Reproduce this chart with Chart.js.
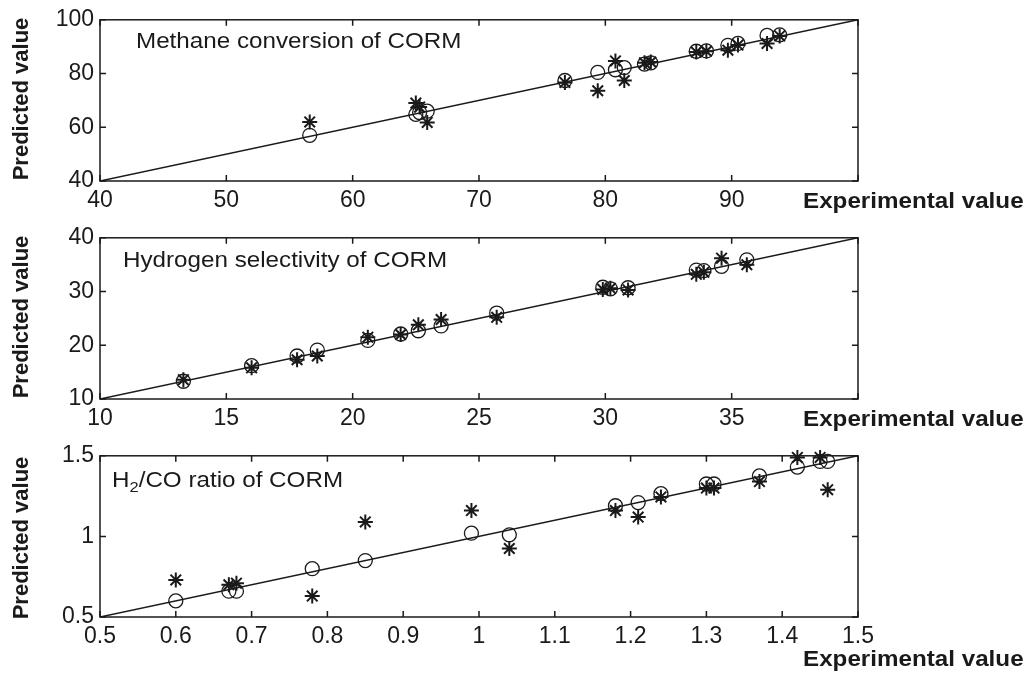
<!DOCTYPE html>
<html>
<head>
<meta charset="utf-8">
<script src="https://cdn.jsdelivr.net/npm/chart.js@4"></script>
<style>
  body { margin: 0; background: #fff; }
  #wrap { position: relative; width: 1029px; height: 681px; overflow: hidden; font-family: "Liberation Sans", Arial, sans-serif; color: #1a1a1a; }
  canvas { position: absolute; left: 0; }
  .lbl { position: absolute; white-space: nowrap; line-height: 24px; font-size: 22px; transform-origin: 0 50%; transform: scaleX(1.1); }
  .bold { font-weight: bold; font-size: 22px; }
  .ylab { position: absolute; white-space: nowrap; font-weight: bold; font-size: 22px; line-height: 24px; transform: translate(-50%, -50%) rotate(-90deg); }
  sub { font-size: 15px; vertical-align: -5px; line-height: 0; }
</style>
</head>
<body>
<div id="wrap">
  <canvas id="c1" width="1029" height="215" style="top:0px"></canvas>
  <canvas id="c2" width="1029" height="215" style="top:218px"></canvas>
  <canvas id="c3" width="1029" height="215" style="top:436px"></canvas>

  <div class="lbl" style="left:136px; top:29px">Methane conversion of CORM</div>
  <div class="lbl" style="left:123px; top:248px">Hydrogen selectivity of CORM</div>
  <div class="lbl" style="left:112px; top:468px">H<sub>2</sub>/CO ratio of CORM</div>

  <div class="lbl bold" style="left:803px; top:189px">Experimental value</div>
  <div class="lbl bold" style="left:803px; top:407px">Experimental value</div>
  <div class="lbl bold" style="left:803px; top:647px">Experimental value</div>

  <div class="ylab" style="left:21px; top:99px">Predicted value</div>
  <div class="ylab" style="left:21px; top:317px">Predicted value</div>
  <div class="ylab" style="left:21px; top:538px">Predicted value</div>
</div>
<script>
// methane conversion (%) - experimental vs two model predictions
const methaneExp    = [56.6, 65.0, 65.3, 65.9, 76.8, 79.4, 80.8, 81.5, 83.1, 83.6, 87.2, 88.0, 89.7, 90.5, 92.8, 93.8];
const methaneCircle = [57.0, 64.8, 65.5, 66.0, 77.4, 80.4, 81.4, 82.2, 83.5, 84.0, 88.3, 88.4, 90.5, 91.2, 94.2, 94.4];
const methaneStar   = [62.0, 69.0, 67.5, 61.8, 76.7, 73.6, 84.7, 77.4, 84.0, 84.3, 88.0, 88.3, 88.7, 90.6, 91.2, 94.0];

// hydrogen selectivity (%)
const hydrogenExp    = [13.3, 16.0, 17.8, 18.6, 20.6, 21.9, 22.6, 23.5, 25.7, 29.9, 30.2, 30.9, 33.6, 33.9, 34.6, 35.6];
const hydrogenCircle = [13.3, 16.2, 18.0, 19.1, 20.9, 22.1, 22.7, 23.6, 26.0, 30.8, 30.5, 30.7, 34.0, 33.9, 34.7, 35.9];
const hydrogenStar   = [13.6, 15.8, 17.3, 18.0, 21.5, 22.0, 23.8, 24.8, 25.2, 30.4, 30.6, 30.3, 33.2, 33.6, 36.2, 35.0];

// H2/CO ratio
const ratioExp    = [0.60, 0.67, 0.68, 0.78, 0.85, 0.99, 1.04, 1.18, 1.21, 1.24, 1.30, 1.31, 1.37, 1.42, 1.45, 1.46];
const ratioCircle = [0.60, 0.66, 0.66, 0.80, 0.85, 1.02, 1.01, 1.19, 1.21, 1.265, 1.325, 1.325, 1.375, 1.43, 1.465, 1.465];
const ratioStar   = [0.73, 0.70, 0.71, 0.63, 1.09, 1.16, 0.925, 1.16, 1.12, 1.245, 1.30, 1.30, 1.34, 1.49, 1.49, 1.29];

const methaneTicks  = { xStep: 10, yStep: 20 };
const hydrogenTicks = { xStep: 5, yStep: 10 };
const ratioTicks    = { xStep: 0.1, yStep: 0.5 };

const ink = "#1a1a1a";

// box around the plot with inward ticks on all four sides
const frame = {
  id: "frame",
  afterDraw(chart) {
    const { ctx, chartArea: a, scales } = chart;
    ctx.save();
    ctx.strokeStyle = ink;
    ctx.lineWidth = 1.5;
    ctx.strokeRect(a.left, a.top, a.right - a.left, a.bottom - a.top);
    scales.x.ticks.forEach((t) => {
      const px = scales.x.getPixelForValue(t.value);
      ctx.beginPath();
      ctx.moveTo(px, a.bottom); ctx.lineTo(px, a.bottom - 6);
      ctx.moveTo(px, a.top); ctx.lineTo(px, a.top + 6);
      ctx.stroke();
    });
    scales.y.ticks.forEach((t) => {
      const py = scales.y.getPixelForValue(t.value);
      ctx.beginPath();
      ctx.moveTo(a.left, py); ctx.lineTo(a.left + 6, py);
      ctx.moveTo(a.right, py); ctx.lineTo(a.right - 6, py);
      ctx.stroke();
    });
    ctx.restore();
  },
};

function panel(id, min, max, ymin, ymax, steps, xs, circles, stars, hideLast, digits) {
  const fmt = (v) => Number(v.toFixed(digits)).toString();
  new Chart(document.getElementById(id), {
    type: "scatter",
    data: {
      datasets: [
        {
          type: "line",
          data: [{ x: min, y: ymin }, { x: max, y: ymax }],
          borderColor: ink,
          borderWidth: 1.5,
          pointRadius: 0,
        },
        {
          data: xs.map((x, i) => ({ x: x, y: circles[i] })),
          pointStyle: "circle",
          pointRadius: 7,
          borderColor: ink,
          borderWidth: 1.3,
          backgroundColor: "rgba(0,0,0,0)",
          clip: false,
        },
        {
          data: xs.map((x, i) => ({ x: x, y: stars[i] })),
          pointStyle: "star",
          pointRadius: 7.5,
          borderColor: ink,
          borderWidth: 2,
          clip: false,
        },
      ],
    },
    options: {
      responsive: false,
      animation: false,
      events: [],
      layout: { padding: { left: 0, right: 1029 - 858, top: 17, bottom: 0 } },
      plugins: { legend: { display: false }, tooltip: { enabled: false } },
      scales: {
        x: {
          type: "linear",
          min: min,
          max: max,
          grid: { display: false, drawTicks: false },
          border: { display: false },
          afterFit: (s) => { s.height = 34; },
          ticks: {
            stepSize: steps.xStep,
            padding: 6,
            color: ink,
            font: { family: "Liberation Sans", size: 23 },
            callback: (v) => (hideLast && Math.abs(v - max) < 1e-9 ? "" : fmt(v)),
          },
        },
        y: {
          type: "linear",
          min: ymin,
          max: ymax,
          grid: { display: false, drawTicks: false },
          border: { display: false },
          afterFit: (s) => { s.width = 100; },
          ticks: {
            stepSize: steps.yStep,
            padding: 6,
            color: ink,
            font: { family: "Liberation Sans", size: 23 },
            callback: (v) => fmt(v),
          },
        },
      },
    },
    plugins: [frame],
  });
}

panel("c1", 40, 100, 40, 100, methaneTicks, methaneExp, methaneCircle, methaneStar, true, 0);
panel("c2", 10, 40, 10, 40, hydrogenTicks, hydrogenExp, hydrogenCircle, hydrogenStar, true, 0);
panel("c3", 0.5, 1.5, 0.5, 1.5, ratioTicks, ratioExp, ratioCircle, ratioStar, false, 1);
</script>
</body>
</html>
